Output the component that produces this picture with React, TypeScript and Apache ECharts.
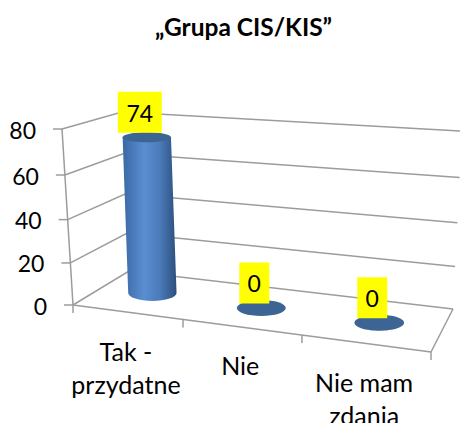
import React, { useEffect, useRef } from "react";
import * as echarts from "echarts";

const titleText = "„Grupa CIS/KIS”";
const categories = ["Tak -\nprzydatne", "Nie", "Nie mam\nzdania"];
const values = [74, 0, 0];
const yTicks = [0, 20, 40, 60, 80];

const FONT = "Lato, Carlito, sans-serif";
const AXIS_GREY = "#9c9c9c";

// 3D box corners as seen in the picture: [u, v, depth] → pixel
const A = [73, 305];
const B = [431, 352];
const C = [129, 271];
const D = [453, 309];
const T = [62, 129];
const G = [443, 154];
const E = [122, 112];
const F = [462, 131];

const mix = (p: number[], q: number[], t: number) => [p[0] + (q[0] - p[0]) * t, p[1] + (q[1] - p[1]) * t];
const warp = (t: number, k: number) => (t * k) / (1 + (k - 1) * t);

function project(u: number, v: number, d: number) {
  const uu = warp(u, 0.887);
  const vv = warp(v, 0.942);
  const front = mix(mix(A, B, uu), mix(T, G, uu), vv);
  const back = mix(mix(C, D, uu), mix(E, F, uu), vv);
  return mix(front, back, d);
}

function fractions(api: any, params: any, cat: number, val: number) {
  const cs = params.coordSys;
  const p = api.coord([cat, val]);
  return [(p[0] - cs.x) / cs.width, (cs.y + cs.height - p[1]) / cs.height];
}

const lineEl = (a: number[], b: number[]) => ({
  type: "line",
  silent: true,
  shape: { x1: a[0], y1: a[1], x2: b[0], y2: b[1] },
  style: { stroke: AXIS_GREY, lineWidth: 1.5, fill: null },
});

const textEl = (x: number, y: number, text: string, align: string, vAlign: string, fontSize: number, lineHeight?: number) => ({
  type: "text",
  silent: true,
  style: { x, y, text, fill: "#000", fontFamily: FONT, fontSize, align, verticalAlign: vAlign, lineHeight },
});

function renderGrid(params: any, api: any) {
  const val = api.value(1);
  const [, v] = fractions(api, params, 0, val);
  const p0 = project(0, v, 0);
  const p1 = project(0, v, 1);
  const p2 = project(1, v, 1);
  return {
    type: "group",
    children: [
      {
        type: "polyline",
        silent: true,
        shape: { points: [p0, p1, p2] },
        style: { stroke: AXIS_GREY, lineWidth: 1.5, fill: null },
      },
      lineEl(p0, [p0[0] - 9, p0[1]]),
      textEl(p0[0] - 26, p0[1] + 0.5, String(val), "right", "middle", 23),
    ],
  };
}

function renderFloor(params: any, api: any) {
  const idx = api.value(0);
  const [u] = fractions(api, params, idx, 0);
  const onEdge = project(u, 0, 0);
  const children: any[] = [];
  const lines = String(categories[idx]);
  const dy = lines.includes("\n") ? 22 : 21;
  children.push(textEl(onEdge[0] - 1, onEdge[1] + dy, lines, "center", "top", 25, 33));
  const tickA = project(idx / 3, 0, 0);
  children.push(lineEl(tickA, [tickA[0], tickA[1] + 8]));
  if (idx === 0) {
    const end = project(1, 0, 0);
    children.push(lineEl(project(0, 0, 0), project(0, 1, 0)));
    children.push(lineEl(project(0, 0, 0), end));
    children.push(lineEl(end, project(1, 0, 1)));
    children.push(lineEl(end, [end[0], end[1] + 8]));
  }
  return { type: "group", children };
}

const bodyFill = {
  type: "linear",
  x: 0,
  y: 0,
  x2: 1,
  y2: 0,
  colorStops: [
    { offset: 0, color: "#3a69a3" },
    { offset: 0.4, color: "#5a8ed2" },
    { offset: 0.7, color: "#4a7ab8" },
    { offset: 1, color: "#2c4e7c" },
  ],
};

function renderCylinder(params: any, api: any) {
  const idx = api.value(0);
  const val = api.value(1);
  const [u, v] = fractions(api, params, idx, val);
  const base = project(u, 0, 0.5);
  const top = project(u, v, 0.5);
  const rx = 24 + u;
  const ry = 8;
  const children: any[] = [];
  const w = val === 0 ? 0 : 1;
  if (w) {
    const bx = base[0];
    const by = base[1] - 1.5;
    const d =
      `M ${top[0] - rx} ${top[1]} L ${bx - rx} ${by} ` +
      `A ${rx} ${ry} 0 0 0 ${bx + rx} ${by} L ${top[0] + rx} ${top[1]} Z`;
    children.push({
      type: "path",
      silent: true,
      shape: { pathData: d },
      style: { fill: bodyFill },
    });
  }
  children.push({
    type: "ellipse",
    silent: true,
    shape: { cx: top[0], cy: top[1], rx, ry: w ? 5 : ry },
    style: { fill: "#3d6594" },
  });
  const bw = val >= 10 ? 44 : 30;
  const lx = top[0] - 7;
  const ly = top[1] - 25;
  children.push({
    type: "rect",
    silent: true,
    shape: { x: lx - bw / 2, y: ly - 20.5, width: bw, height: 41 },
    style: { fill: "#ffff00" },
  });
  children.push(textEl(lx, ly + 0.5, String(val), "center", "middle", 23));
  return { type: "group", children };
}

export default function App() {
  const ref = useRef<HTMLDivElement>(null);
  useEffect(() => {
    document.body.style.margin = "0";
    const chart = echarts.init(ref.current!, null, { renderer: "svg" });
    chart.setOption({
      animation: false,
      backgroundColor: "#fff",
      title: {
        text: titleText,
        left: 238.5,
        top: 9,
        textAlign: "center",
        textStyle: { fontFamily: FONT, fontWeight: "bold", fontSize: 24.5, color: "#000" },
      },
      grid: { left: 73, top: 129, width: 358, height: 176, containLabel: false },
      xAxis: { type: "category", data: categories, show: false },
      yAxis: { type: "value", min: 0, max: 80, interval: 20, show: false },
      series: [
        {
          type: "custom",
          z: 1,
          silent: true,
          renderItem: renderGrid,
          data: yTicks.map((t) => [0, t]),
          encode: { x: 0, y: 1 },
        },
        {
          type: "custom",
          z: 2,
          silent: true,
          renderItem: renderFloor,
          data: categories.map((_, i) => [i, 0]),
          encode: { x: 0, y: 1 },
        },
        {
          type: "custom",
          z: 3,
          silent: true,
          renderItem: renderCylinder,
          data: values.map((v, i) => [i, v]),
          encode: { x: 0, y: 1 },
        },
      ],
    });
    return () => chart.dispose();
  }, []);
  return <div ref={ref} style={{ width: 460, height: 423, overflow: "hidden" }} />;
}
